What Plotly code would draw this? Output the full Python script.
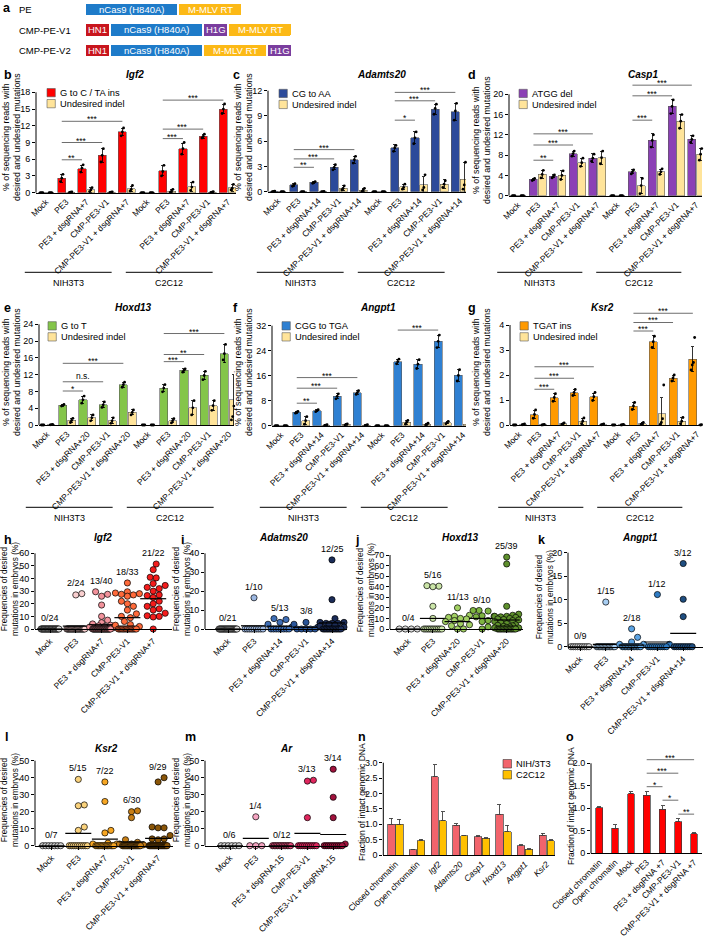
import plotly.graph_objects as go

W, H = 705, 940
FONT = "Liberation Sans, Arial, Helvetica, sans-serif"

# ======================= DATA =======================
cell_lines = ["NIH3T3", "C2C12"]
conds_7 = ["Mock", "PE3", "PE3 + dsgRNA+7", "CMP-PE3-V1", "CMP-PE3-V1 + dsgRNA+7"]
conds_14 = ["Mock", "PE3", "PE3 + dsgRNA+14", "CMP-PE3-V1", "CMP-PE3-V1 + dsgRNA+14"]
conds_20 = ["Mock", "PE3", "PE3 + dsgRNA+20", "CMP-PE3-V1", "CMP-PE3-V1 + dsgRNA+20"]
conds_m15 = ["Mock", "PE3", "PE3 + dsgRNA-15", "CMP-PE3-V1", "CMP-PE3-V1 + dsgRNA-15"]

# ---- a: constructs ----
a_rows = ["PE", "CMP-PE-V1", "CMP-PE-V2"]
a_parts = [["nCas9 (H840A)", "M-MLV RT"],
           ["HN1", "nCas9 (H840A)", "H1G", "M-MLV RT"],
           ["HN1", "nCas9 (H840A)", "M-MLV RT", "H1G"]]
a_part_len = {"HN1": 25, "nCas9 (H840A)": 93, "H1G": 25, "M-MLV RT": 64}
a_part_color = {"HN1": "#C8151D", "nCas9 (H840A)": "#1E7BC9", "H1G": "#7A3D9E", "M-MLV RT": "#FCB916"}

# ---- b: Igf2 ----
b_des = [0, 2.6, 4.3, 6.7, 10.9, 0, 3.9, 7.9, 10.1, 15.0]
b_des_err = [0, 0.7, 0.6, 1.2, 0.7, 0, 0.9, 1.0, 0.4, 0.8]
b_und = [0, 0.1, 0.5, 0.1, 0.7, 0, 0.3, 1.1, 0.1, 0.9]
b_und_err = [0, 0.05, 0.4, 0.05, 0.5, 0, 0.3, 0.8, 0.1, 0.6]
b_des_pts = [[0, 0, 0], [2.0, 2.6, 3.3], [3.7, 4.4, 5.0], [5.5, 6.7, 7.9], [10.2, 10.9, 11.6],
             [0, 0, 0], [3.0, 3.8, 4.9], [6.9, 7.9, 9.0], [9.8, 10.1, 10.5], [14.2, 15.0, 15.9]]
b_und_pts = [[0, 0, 0], [0.05, 0.1, 0.15], [0.2, 0.5, 0.9], [0.05, 0.1, 0.15], [0.3, 0.6, 1.3],
             [0, 0, 0], [0.1, 0.3, 0.6], [0.4, 1.0, 1.9], [0.05, 0.1, 0.2], [0.5, 0.8, 1.5]]
b_sig = [(1, 2, 5.9, "**"), (1, 3, 9.0, "***"), (1, 4, 12.8, "***"),
         (6, 7, 9.7, "***"), (6, 8, 11.4, "***"), (6, 9, 16.6, "***")]

# ---- c: Adamts20 ----
c_des = [0.05, 0.8, 1.1, 2.9, 3.8, 0, 5.2, 6.4, 9.8, 9.5]
c_des_err = [0.03, 0.15, 0.1, 0.3, 0.4, 0, 0.4, 0.7, 0.6, 1.0]
c_und = [0, 0, 0.02, 0.4, 0.2, 0, 0.6, 0.8, 0.9, 1.5]
c_und_err = [0, 0, 0.02, 0.3, 0.2, 0, 0.3, 1.0, 0.5, 2.0]
c_des_pts = [[0.02, 0.05, 0.08], [0.65, 0.8, 0.95], [1.0, 1.1, 1.2], [2.6, 2.9, 3.2], [3.4, 3.8, 4.2],
             [0, 0, 0], [4.8, 5.2, 5.5], [5.7, 6.4, 7.1], [9.2, 9.9, 10.4], [8.5, 9.6, 10.5]]
c_und_pts = [[0, 0, 0], [0, 0, 0.02], [0, 0.02, 0.05], [0.2, 0.4, 0.7], [0.05, 0.2, 0.4],
             [0, 0, 0], [0.3, 0.5, 0.9], [0.2, 0.5, 2.0], [0.5, 0.9, 1.3], [0.3, 0.8, 3.5]]
c_sig = [(1, 2, 2.9, "**"), (1, 3, 3.9, "***"), (1, 4, 5.0, "***"),
         (6, 7, 8.5, "*"), (6, 8, 10.8, "***"), (6, 9, 11.8, "***")]

# ---- d: Casp1 ----
d_des = [0, 3.2, 3.8, 8.3, 7.4, 0, 4.7, 10.9, 17.6, 11.1]
d_des_err = [0, 0.2, 0.3, 0.5, 0.9, 0, 0.4, 1.3, 1.4, 0.8]
d_und = [0, 4.2, 4.0, 6.5, 7.5, 0, 2.0, 4.7, 14.7, 8.2]
d_und_err = [0, 0.8, 0.9, 0.8, 1.3, 0, 1.6, 0.5, 1.4, 1.2]
d_des_pts = [[0, 0, 0], [3.0, 3.2, 3.4], [3.5, 3.8, 4.1], [7.8, 8.3, 8.8], [6.8, 7.4, 8.2],
             [0, 0, 0], [4.3, 4.7, 5.1], [9.6, 10.9, 12.0], [16.2, 17.6, 18.9], [10.5, 11.1, 11.8]]
d_und_pts = [[0, 0, 0], [3.5, 4.2, 5.0], [3.2, 4.0, 4.9], [5.8, 6.5, 7.4], [6.3, 7.5, 8.8],
             [0, 0, 0], [0.4, 2.0, 3.4], [4.2, 4.7, 5.3], [13.3, 14.7, 16.0], [7.0, 8.2, 9.3]]
d_sig = [(1, 2, 7.0, "**"), (1, 3, 10.0, "***"), (1, 4, 12.2, "***"),
         (6, 7, 14.9, "***"), (6, 8, 19.7, "***"), (6, 9, 21.8, "***")]

# ---- e: Hoxd13 ----
e_des = [0, 4.7, 6.0, 4.8, 9.6, 0, 8.8, 13.0, 11.8, 17.0]
e_des_err = [0, 0.2, 0.9, 0.7, 0.6, 0, 0.8, 0.4, 1.0, 2.2]
e_und = [0.1, 1.1, 1.7, 1.0, 3.0, 0, 1.0, 4.1, 4.6, 6.0]
e_und_err = [0.05, 0.5, 0.7, 0.7, 0.6, 0, 0.5, 1.7, 1.2, 6.0]
e_des_pts = [[0, 0, 0], [4.5, 4.7, 4.9], [5.2, 6.0, 6.9], [4.2, 4.8, 5.5], [9.0, 9.6, 10.2],
             [0, 0, 0], [7.9, 8.8, 9.6], [12.6, 13.0, 13.4], [10.8, 11.8, 12.8], [15.5, 17.0, 19.2]]
e_und_pts = [[0.05, 0.1, 0.15], [0.6, 1.1, 1.6], [1.0, 1.7, 2.4], [0.4, 1.0, 1.7], [2.4, 3.0, 3.6],
             [0, 0, 0], [0.5, 1.0, 1.5], [2.4, 4.1, 5.8], [3.5, 4.6, 5.8], [1.2, 2.0, 4.5, 16.3]]
e_sig = [(1, 2, 8.1, "*"), (1, 3, 10.3, "n.s."), (1, 4, 14.7, "***"),
         (6, 7, 15.1, "***"), (6, 8, 16.8, "**"), (6, 9, 21.8, "***")]

# ---- f: Angpt1 ----
f_des = [0, 4.3, 4.8, 9.4, 10.6, 0, 20.5, 19.7, 27.0, 16.1]
f_des_err = [0, 0.3, 0.3, 0.8, 0.6, 0, 0.8, 1.4, 2.0, 1.8]
f_und = [0, 1.6, 0.2, 0.4, 0.2, 0, 1.1, 0.5, 1.0, 0.5]
f_und_err = [0, 1.3, 0.1, 0.2, 0.1, 0, 0.6, 0.3, 0.4, 0.5]
f_des_pts = [[0, 0, 0], [4.0, 4.3, 4.6], [4.5, 4.8, 5.1], [8.6, 9.4, 10.2], [10.0, 10.6, 11.2],
             [0, 0, 0], [19.8, 20.5, 21.3], [18.3, 19.7, 21.1], [25.0, 27.0, 29.0], [14.3, 16.1, 17.9]]
f_und_pts = [[0, 0, 0], [0.5, 1.6, 2.9], [0.1, 0.2, 0.3], [0.2, 0.4, 0.6], [0.1, 0.2, 0.3],
             [0, 0, 0], [0.5, 1.1, 1.7], [0.2, 0.5, 0.8], [0.6, 1.0, 1.4], [0.1, 0.5, 1.0]]
f_sig = [(1, 2, 7.2, "**"), (1, 3, 12.0, "***"), (1, 4, 15.4, "***"), (6, 8, 30.6, "***")]

# ---- g: Ksr2 ----
g_des = [0, 0.42, 1.1, 1.3, 1.13, 0, 0.76, 3.33, 1.88, 2.63]
g_des_err = [0, 0.15, 0.15, 0.12, 0.15, 0, 0.15, 0.25, 0.12, 0.5]
g_und = [0.02, 0.01, 0.05, 0.15, 0.02, 0.01, 0.06, 0.45, 0.15, 0.01]
g_und_err = [0.01, 0.01, 0.03, 0.12, 0.01, 0.01, 0.05, 0.65, 0.15, 0.01]
g_des_pts = [[0, 0, 0], [0.27, 0.42, 0.6], [0.95, 1.1, 1.25], [1.18, 1.3, 1.42], [0.98, 1.13, 1.3],
             [0, 0, 0], [0.62, 0.76, 0.9], [3.1, 3.33, 3.55], [1.76, 1.88, 2.0], [2.2, 2.4, 2.5, 3.5]]
g_und_pts = [[0.01, 0.02, 0.04], [0, 0.01, 0.02], [0.02, 0.05, 0.08], [0.05, 0.15, 0.28], [0.01, 0.02, 0.04],
             [0, 0.01, 0.02], [0.02, 0.06, 0.1], [0.02, 0.1, 0.25, 1.6], [0.05, 0.15, 0.3], [0, 0.01, 0.02]]
g_sig = [(1, 2, 1.43, "***"), (1, 3, 1.87, "***"), (1, 4, 2.33, "***"),
         (6, 7, 3.76, "***"), (6, 8, 4.1, "***"), (6, 9, 4.47, "***")]

# ---- h-m: embryo dot plots (nonzero values + number of zero embryos) ----
h_pos = [[], [28.0, 27.0],
         [29.5, 27.5, 26.0, 19.0, 10.0, 7.0, 5.0, 4.0, 3.0, 2.5, 2.0, 1.5, 1.0],
         [36.5, 29.5, 28.5, 28.0, 27.5, 27.0, 26.0, 22.0, 20.0, 18.0, 15.0, 12.0, 10.0, 9.0, 6.0, 3.5, 3.0, 2.0],
         [51.5, 47.0, 41.0, 40.5, 36.0, 34.5, 33.0, 32.0, 30.0, 27.0, 26.5, 25.0, 22.0, 20.0, 18.0, 16.0,
          15.0, 12.5, 10.5, 10.0, 9.5]]
h_zeros = [24, 22, 27, 15, 1]
h_means = [0, 2.3, 3.4, 9.0, 24.0]
h_counts = ["0/24", "2/24", "13/40", "18/33", "21/22"]

i_pos = [[], [16.5], [5.5, 5.0, 3.5, 2.5, 1.0], [3.5, 2.5, 1.0],
         [36.5, 15.5, 5.5, 3.5, 3.5, 3.0, 3.0, 3.0, 2.5, 2.0, 1.5, 1.0]]
i_zeros = [21, 9, 8, 5, 13]
i_means = [0, 1.7, 1.5, 0.9, 3.2]
i_counts = ["0/21", "1/10", "5/13", "3/8", "12/25"]

j_pos = [[], [41.0, 40.5, 40.0, 21.5, 10.0],
         [20.0, 13.0, 12.0, 11.0, 10.0, 9.5, 8.0, 7.0, 5.0, 4.0, 3.0],
         [17.5, 17.5, 17.0, 12.5, 12.0, 11.5, 8.0, 7.0, 2.0],
         [68.0, 61.5, 21.5, 14.0, 13.0, 12.0, 12.0, 11.5, 11.0, 10.0, 9.5, 9.0, 8.5, 8.0, 7.0, 6.0, 5.0,
          4.0, 3.5, 3.0, 2.5, 2.0, 1.5, 1.0, 1.0]]
j_zeros = [4, 11, 2, 1, 14]
j_means = [0, 10.0, 7.0, 10.0, 8.5]
j_counts = ["0/4", "5/16", "11/13", "9/10", "25/39"]

k_pos = [[], [9.5], [3.8, 2.0, 1.0, 0.5, 0.5], [11.1, 0.5], [17.7, 10.1, 6.4]]
k_zeros = [9, 14, 13, 10, 9]
k_means = [0, 0.5, 0.35, 1.0, 2.85]
k_counts = ["0/9", "1/15", "2/18", "1/12", "3/12"]

l_pos = [[], [39.0, 24.0, 23.5, 11.0, 9.0],
         [37.5, 26.0, 9.0, 7.5, 1.5, 1.0, 1.0],
         [20.5, 20.0, 16.5, 3.5, 2.0, 1.0, 1.0, 0.5],
         [40.0, 37.5, 11.0, 10.5, 10.5, 6.0, 4.0, 4.0, 3.5]]
l_zeros = [7, 10, 15, 22, 20]
l_means = [0, 7.2, 3.9, 2.3, 4.3]
l_counts = ["0/7", "5/15", "7/22", "6/30", "9/29"]

m_pos = [[], [17.0], [], [38.5, 38.0, 16.5], [45.0, 28.5, 16.5, 1.0]]
m_zeros = [6, 3, 12, 10, 10]
m_means = [0, 4.3, 0, 7.3, 6.6]
m_counts = ["0/6", "1/4", "0/12", "3/13", "3/14"]

# ---- n: intact genomic DNA by locus ----
n_labels = ["Closed chromatin", "Open chromatin", "<i>Igf2</i>", "<i>Adamts20</i>", "<i>Casp1</i>",
            "<i>Hoxd13</i>", "<i>Angpt1</i>", "<i>Ksr2</i>"]
n_series = ["NIH/3T3", "C2C12"]
n_nih = [1.0, 0.17, 2.55, 0.97, 0.59, 1.33, 0.30, 0.65]
n_nih_err = [0.2, 0.02, 0.38, 0.05, 0.04, 0.30, 0.04, 0.06]
n_c2 = [1.0, 0.46, 1.12, 0.62, 0.54, 0.75, 0.18, 0.46]
n_c2_err = [0.16, 0.06, 0.28, 0.03, 0.02, 0.21, 0.02, 0.03]

# ---- o: intact genomic DNA by condition ----
o_labels = ["Closed chromatin", "Open chromatin", "Mock", "PE3", "PE3 + dsgRNA +7", "CMP-PE3-V1",
            "CMP-PE3-V1 + dsgRNA +7"]
o_vals = [1.01, 0.56, 1.32, 1.29, 0.98, 0.70, 0.44]
o_err = [0.02, 0.07, 0.05, 0.08, 0.08, 0.07, 0.02]
o_sig = [(3, 6, 2.08, "***"), (3, 5, 1.78, "***"), (3, 4, 1.48, "*"), (4, 5, 1.18, "*"), (5, 6, 0.87, "**")]

# ======================= STYLE / GEOMETRY =======================
YELLOW = "#FFE49A"
BAR_LINE = "#5A5A5A"
SIG_LINE = "#6E6E6E"

GEO = {
    "b": dict(axis_x=36, x_end=236, y0=192.7, ytk=92.3, top=80, g0=46, w=20.2, gl_y=272.3, leg_y=88.5,
              yt=(11, 137), title=(135, 75), letter=(2, 75)),
    "c": dict(axis_x=268, x_end=466, y0=191.7, ytk=90.7, top=80, g0=278, w=20.2, gl_y=272.3, leg_y=89.3,
              yt=(243, 137), title=(381, 75), letter=(231, 75)),
    "d": dict(axis_x=509, x_end=702, y0=195.7, ytk=94.3, top=80, g0=518, w=19.8, gl_y=272.3, leg_y=89.3,
              yt=(481, 140), title=(643, 75), letter=(466, 75)),
    "e": dict(axis_x=39, x_end=234, y0=425, ytk=324.3, top=309, g0=47, w=20.2, gl_y=507.3, leg_y=321.7,
              yt=(11, 372), title=(133, 307), letter=(2, 308)),
    "f": dict(axis_x=272, x_end=466, y0=425.7, ytk=325.7, top=309, g0=281, w=20.2, gl_y=507.3, leg_y=321.7,
              yt=(243, 372), title=(378, 308), letter=(231, 308)),
    "g": dict(axis_x=510, x_end=702, y0=425, ytk=325, top=309, g0=519, w=19.8, gl_y=507.3, leg_y=321.7,
              yt=(481, 372), title=(602, 307), letter=(466, 308)),
    "h": dict(axis_x=35, x_end=172, y0=629, ytk=553.3, top=542, g0=50, w=25.8,
              yt=(9, 589), title=(103, 537), letter=(2, 540)),
    "i": dict(axis_x=205, x_end=347, y0=629, ytk=553.3, top=542, g0=228, w=26,
              yt=(181, 589), title=(283, 537), letter=(179, 540)),
    "j": dict(axis_x=390, x_end=523, y0=629, ytk=555, top=542, g0=408.3, w=24.6,
              yt=(365, 590), title=(460, 537), letter=(353, 540)),
    "k": dict(axis_x=568, x_end=703, y0=646.7, ytk=552.7, top=542, g0=580, w=25.8,
              yt=(544, 597), title=(640, 537), letter=(536, 540)),
    "l": dict(axis_x=35, x_end=173, y0=845.7, ytk=760.7, top=752, g0=51.7, w=26.6,
              yt=(9, 800), title=(106, 748), letter=(3, 737)),
    "m": dict(axis_x=205, x_end=347, y0=845.7, ytk=760.7, top=742, g0=230, w=25.8,
              yt=(181, 800), title=(286, 748), letter=(183, 737)),
    "n": dict(axis_x=383.3, x_end=555, y0=855, ytk=762.7, top=752, g0=395.5, w=21.6,
              yt=(362, 802), letter=(356, 737)),
    "o": dict(axis_x=591, x_end=702, y0=853.3, ytk=763.3, top=752, g0=599.3, w=15.8,
              yt=(571, 806), letter=(564, 737)),
}


def X(p):
    return p / W


def Y(p):
    return 1 - p / H


traces, shapes, anns = [], [], []
axes = {}
nax = [0]


def add_axes(xdom, ydom, xr, yr, xopts, yopts):
    nax[0] += 1
    k = nax[0]
    s = "" if k == 1 else str(k)
    axes["xaxis" + s] = dict(domain=[X(xdom[0]), X(xdom[1])], range=xr, anchor="y" + s, automargin=False, **xopts)
    axes["yaxis" + s] = dict(domain=[Y(ydom[0]), Y(ydom[1])], range=yr, anchor="x" + s, automargin=False, **yopts)
    return "x" + s, "y" + s


XBASE = dict(showgrid=False, zeroline=False, showline=True, linecolor="black", linewidth=1,
             tickangle=-45, tickfont=dict(size=8.5), fixedrange=True)
YBASE = dict(showgrid=False, zeroline=False, showline=False, ticks="outside", ticklen=3, tickwidth=1,
             tickcolor="black", tickfont=dict(size=9), fixedrange=True)


def text(x, y, s, size=9, **kw):
    d = dict(xref="paper", yref="paper", x=X(x), y=Y(y), text=s, showarrow=False, xanchor="center",
             yanchor="middle", font=dict(size=size, color="black"))
    d.update(kw)
    anns.append(d)


def yaxis_line(g):
    shapes.append(dict(type="line", xref="paper", yref="paper", x0=X(g["axis_x"]), x1=X(g["axis_x"]),
                       y0=Y(g["y0"]), y1=Y(g["ytk"]), line=dict(color="black", width=1)))


def common_text(g, title, letter, ytitle, ysize=8.8):
    if title:
        text(g["title"][0], g["title"][1], "<b><i>%s</i></b>" % title, size=10)
    text(g["letter"][0], g["letter"][1], "<b>%s</b>" % letter, size=12.5, xanchor="left")
    text(g["yt"][0], g["yt"][1], ytitle, size=ysize, textangle=-90)


# ---------------- panel a ----------------
ga_x, ga_y = add_axes((85, 305), (62, 0), [0, 220], [2.55, -0.45],
                      dict(visible=False, fixedrange=True), dict(visible=False, fixedrange=True))
for col in range(4):
    xs, cols = [], []
    for r, parts in enumerate(a_parts):
        if col < len(parts):
            xs.append(a_part_len[parts[col]]); cols.append(a_part_color[parts[col]])
        else:
            xs.append(None); cols.append("white")
    traces.append(go.Bar(x=xs, y=[0, 1, 2], orientation="h", width=0.62,
                         marker=dict(color=cols, line=dict(color="white", width=1.4), cornerradius=2),
                         xaxis=ga_x, yaxis=ga_y))
for r, parts in enumerate(a_parts):
    start = 0
    for p in parts:
        anns.append(dict(xref=ga_x, yref=ga_y, x=start + a_part_len[p] / 2.0, y=r, text=p, showarrow=False,
                         xanchor="center", yanchor="middle", font=dict(size=9.5, color="white")))
        start += a_part_len[p]
for r, name in enumerate(a_rows):
    text(17, 9.5 + r * 20.6, name, size=9.5, xanchor="left")
text(1, 8, "<b>a</b>", size=12.5, xanchor="left")


# ---------------- bar panels b-g ----------------
def bar_panel(key, labels, des, des_err, und, und_err, des_pts, und_pts, color, ticks, title, leg, sig):
    g = GEO[key]
    w = g["w"]
    r0 = -(g["g0"] - g["axis_x"]) / w
    r1 = r0 + (g["x_end"] - g["axis_x"]) / w
    ppu = (g["y0"] - g["ytk"]) / ticks[-1]
    yr1 = (g["y0"] - g["top"]) / ppu
    xa, ya = add_axes((g["axis_x"], g["x_end"]), (g["y0"], g["top"]), [r0, r1], [0, yr1],
                      dict(XBASE, tickvals=list(range(len(labels))), ticktext=labels, ticks=""),
                      dict(YBASE, tickvals=ticks))
    n = len(des)
    for vals, err, off, col in ((des, des_err, -0.22, color), (und, und_err, 0.22, YELLOW)):
        traces.append(go.Bar(x=[i + off for i in range(n)], y=vals, width=0.4,
                             marker=dict(color=col, line=dict(color=BAR_LINE, width=0.6)),
                             error_y=dict(type="data", array=err, color="black", thickness=0.8, width=1.5),
                             xaxis=xa, yaxis=ya))
    xs, ys = [], []
    for pts_list, off in ((des_pts, -0.22), (und_pts, 0.22)):
        for i, pts in enumerate(pts_list):
            m = len(pts)
            for k, v in enumerate(pts):
                xs.append(i + off + (k - (m - 1) / 2) * 0.06)
                ys.append(v)
    traces.append(go.Scatter(x=xs, y=ys, mode="markers", marker=dict(color="black", size=2.8),
                             cliponaxis=False, xaxis=xa, yaxis=ya))
    yaxis_line(g)
    for a, b, yv, s in sig:
        shapes.append(dict(type="line", xref=xa, yref=ya, x0=a - 0.22, x1=b - 0.22, y0=yv, y1=yv,
                           line=dict(color=SIG_LINE, width=1)))
        anns.append(dict(xref=xa, yref=ya, x=(a + b) / 2 - 0.22, y=yv, text=s, showarrow=False,
                         xanchor="center", yanchor="bottom", yshift=-5 if "*" in s else -1,
                         font=dict(size=8.5, color="black")))
    for gi, name in enumerate(cell_lines):
        s = g["g0"] + 5 * gi * w - 1.05 * w
        e = g["g0"] + (5 * gi + 4) * w - 0.75 * w
        shapes.append(dict(type="line", xref="paper", yref="paper", x0=X(s), x1=X(e), y0=Y(g["gl_y"]),
                           y1=Y(g["gl_y"]), line=dict(color="black", width=1)))
        text((s + e) / 2, g["gl_y"] + 11, name, size=9)
    # legend
    for li, (lab, col) in enumerate(((leg, color), ("Undesired indel", YELLOW))):
        yt = g["leg_y"] + 11 * li
        x0 = g["g0"] + 1
        shapes.append(dict(type="rect", xref="paper", yref="paper", x0=X(x0), x1=X(x0 + 8.3),
                           y0=Y(yt + 8.3), y1=Y(yt), fillcolor=col, line=dict(color=BAR_LINE, width=0.6)))
        text(x0 + 10.5, yt + 4.3, lab, size=9.3, xanchor="left")
    common_text(g, title, key, "% of sequencing reads with<br>desired and undesired mutations")


bar_panel("b", conds_7 * 2, b_des, b_des_err, b_und, b_und_err, b_des_pts, b_und_pts, "#FF0000",
          [0, 3, 6, 9, 12, 15, 18], "Igf2", "G to C / TA ins", b_sig)
bar_panel("c", conds_14 * 2, c_des, c_des_err, c_und, c_und_err, c_des_pts, c_und_pts, "#2C4A9A",
          [0, 3, 6, 9, 12], "Adamts20", "CG to AA", c_sig)
bar_panel("d", conds_7 * 2, d_des, d_des_err, d_und, d_und_err, d_des_pts, d_und_pts, "#8B40B5",
          [0, 4, 8, 12, 16, 20], "Casp1", "ATGG del", d_sig)
bar_panel("e", conds_20 * 2, e_des, e_des_err, e_und, e_und_err, e_des_pts, e_und_pts, "#84C54A",
          [0, 4, 8, 12, 16, 20, 24], "Hoxd13", "G to T", e_sig)
bar_panel("f", conds_14 * 2, f_des, f_des_err, f_und, f_und_err, f_des_pts, f_und_pts, "#2F80D2",
          [0, 8, 16, 24, 32], "Angpt1", "CGG to TGA", f_sig)
bar_panel("g", conds_7 * 2, g_des, g_des_err, g_und, g_und_err, g_des_pts, g_und_pts, "#FF9A00",
          [0, 1, 2, 3, 4], "Ksr2", "TGAT ins", g_sig)


# ---------------- dot panels h-m ----------------
def swarm(vals, ppu, w, d=6.0, row_half=9.0, max_half=13.0):
    n = len(vals)
    offs = [None] * n
    placed = []
    counts = {}
    for v in vals:
        counts[v] = counts.get(v, 0) + 1
    for v, c in counts.items():
        if c >= 3:
            idx = [i for i in range(n) if vals[i] == v]
            half = min((c - 1) * d / 2.0, row_half)
            for k, i in enumerate(idx):
                xo = -half + 2 * half * k / (c - 1)
                offs[i] = xo
                placed.append((xo, v * ppu))
    rest = sorted([i for i in range(n) if offs[i] is None], key=lambda i: vals[i])
    step = d / 2.0
    cands = [0.0]
    k = 1
    while k * step <= max_half + 1e-9:
        cands += [k * step, -k * step]
        k += 1
    for i in rest:
        y = vals[i] * ppu
        chosen, best_c, best_d = None, 0.0, -1.0
        for c in cands:
            md = min([((c - a) ** 2 + (y - b) ** 2) ** 0.5 for a, b in placed], default=1e9)
            if md >= d * 0.95:
                chosen = c
                break
            if md > best_d:
                best_d, best_c = md, c
        if chosen is None:
            chosen = best_c
        offs[i] = chosen
        placed.append((chosen, y))
    return [o / w for o in offs]


def dot_panel(key, labels, pos, zeros, means, counts, colors, ticks, title):
    g = GEO[key]
    w = g["w"]
    r0 = -(g["g0"] - g["axis_x"]) / w
    r1 = r0 + (g["x_end"] - g["axis_x"]) / w
    ppu = (g["y0"] - g["ytk"]) / ticks[-1]
    yr1 = (g["y0"] - g["top"]) / ppu
    xa, ya = add_axes((g["axis_x"], g["x_end"]), (g["y0"], g["top"]), [r0, r1], [0, yr1],
                      dict(XBASE, tickvals=list(range(5)), ticktext=labels, ticks="outside", ticklen=3,
                           tickcolor="black"),
                      dict(YBASE, tickvals=ticks))
    for i in range(5):
        vals = pos[i] + [0.0] * zeros[i]
        offs = swarm(vals, ppu, w)
        traces.append(go.Scatter(x=[i + o for o in offs], y=vals, mode="markers", cliponaxis=False,
                                 marker=dict(size=6.2, color=colors[i], line=dict(color="black", width=0.7)),
                                 xaxis=xa, yaxis=ya))
        hw = 13.0 / w
        traces.append(go.Scatter(x=[i - hw, i + hw], y=[means[i], means[i]], mode="lines", cliponaxis=False,
                                 line=dict(color="black", width=1.2), xaxis=xa, yaxis=ya))
        anns.append(dict(xref=xa, yref=ya, x=i, y=max(vals) + 11.0 / ppu, text=counts[i], showarrow=False,
                         xanchor="center", yanchor="middle", font=dict(size=9, color="black")))
    yaxis_line(g)
    common_text(g, title, key, "Frequencies of desired<br>mutations in embryos (%)", ysize=8.3)


GREY = "#DCDCDC"
dot_panel("h", conds_7, h_pos, h_zeros, h_means, h_counts,
          [GREY, "#F9CFCF", "#F2929B", "#FF6A3A", "#F41C1C"], [0, 10, 20, 30, 40, 50, 60], "Igf2")
dot_panel("i", conds_14, i_pos, i_zeros, i_means, i_counts,
          [GREY, "#9DB8E2", "#3F6EB5", "#2A5599", "#1B2C58"], [0, 10, 20, 30, 40], "Adatms20")
dot_panel("j", conds_20, j_pos, j_zeros, j_means, j_counts,
          [GREY, "#CBE5A8", "#A2D063", "#7EB441", "#5E902C"], [0, 10, 20, 30, 40, 50, 60, 70], "Hoxd13")
dot_panel("k", conds_14, k_pos, k_zeros, k_means, k_counts,
          [GREY, "#A8CEF2", "#5BA3E3", "#2F7CC4", "#1F4E80"], [0, 5, 10, 15, 20], "Angpt1")
dot_panel("l", conds_7, l_pos, l_zeros, l_means, l_counts,
          ["#CFCFCF", "#FAD27C", "#F6A623", "#C77E16", "#8A5508"], [0, 10, 20, 30, 40, 50], "Ksr2")
dot_panel("m", conds_m15, m_pos, m_zeros, m_means, m_counts,
          ["#D2D2D2", "#F5A5C2", "#E84C7C", "#E0265E", "#A0123C"], [0, 10, 20, 30, 40, 50], "Ar")

# ---------------- panel n ----------------
g = GEO["n"]
w = g["w"]
r0 = -(g["g0"] - g["axis_x"]) / w
r1 = r0 + (g["x_end"] - g["axis_x"]) / w
n_ticks = [0, 0.5, 1.0, 1.5, 2.0, 2.5, 3.0]
ppu = (g["y0"] - g["ytk"]) / n_ticks[-1]
xa, ya = add_axes((g["axis_x"], g["x_end"]), (g["y0"], g["top"]), [r0, r1], [0, (g["y0"] - g["top"]) / ppu],
                  dict(XBASE, tickvals=list(range(len(n_labels))), ticktext=n_labels, ticks=""),
                  dict(YBASE, tickvals=n_ticks, ticktext=["0", "0.5", "1.0", "1.5", "2.0", "2.5", "3.0"]))
N_COL = ["#F2646C", "#FFC000"]
for vals, err, off, col in ((n_nih, n_nih_err, -0.185, N_COL[0]), (n_c2, n_c2_err, 0.185, N_COL[1])):
    traces.append(go.Bar(x=[i + off for i in range(len(vals))], y=vals, width=0.34,
                         marker=dict(color=col, line=dict(color="#3A3A3A", width=0.7)),
                         error_y=dict(type="data", symmetric=False, array=err, arrayminus=[0] * len(err),
                                      color="#404040", thickness=0.9, width=2),
                         xaxis=xa, yaxis=ya))
yaxis_line(g)
for li, (lab, col) in enumerate(zip(n_series, N_COL)):
    yt = 759.5 + 11 * li
    shapes.append(dict(type="rect", xref="paper", yref="paper", x0=X(503), x1=X(511.5), y0=Y(yt + 8.5),
                       y1=Y(yt), fillcolor=col, line=dict(color="#3A3A3A", width=0.6)))
    text(514, yt + 4.3, lab, size=9.3, xanchor="left")
common_text(g, None, "n", "Fraction of intact genomic DNA", ysize=8.5)

# ---------------- panel o ----------------
g = GEO["o"]
w = g["w"]
r0 = -(g["g0"] - g["axis_x"]) / w
r1 = r0 + (g["x_end"] - g["axis_x"]) / w
o_ticks = [0, 0.5, 1.0, 1.5, 2.0]
ppu = (g["y0"] - g["ytk"]) / o_ticks[-1]
xa, ya = add_axes((g["axis_x"], g["x_end"]), (g["y0"], g["top"]), [r0, r1], [0, (g["y0"] - g["top"]) / ppu],
                  dict(XBASE, tickvals=list(range(len(o_labels))), ticktext=o_labels, ticks=""),
                  dict(YBASE, tickvals=o_ticks, ticktext=["0", "0.5", "1.0", "1.5", "2.0"]))
traces.append(go.Bar(x=list(range(len(o_vals))), y=o_vals, width=0.42,
                     marker=dict(color="#FF0000", line=dict(color="#3A3A3A", width=0.7)),
                     error_y=dict(type="data", symmetric=False, array=o_err, arrayminus=[0] * len(o_err),
                                  color="#404040", thickness=0.9, width=2),
                     xaxis=xa, yaxis=ya))
yaxis_line(g)
for a, b, yv, s in o_sig:
    shapes.append(dict(type="line", xref=xa, yref=ya, x0=a, x1=b, y0=yv, y1=yv,
                       line=dict(color=SIG_LINE, width=1)))
    anns.append(dict(xref=xa, yref=ya, x=(a + b) / 2, y=yv, text=s, showarrow=False, xanchor="center",
                     yanchor="bottom", yshift=-5, font=dict(size=8.5, color="black")))
common_text(g, None, "o", "Fraction of intact genomic DNA", ysize=8.5)

# ======================= FIGURE =======================
fig = go.Figure(data=traces)
fig.update_layout(template="none", width=W, height=H, margin=dict(l=0, r=0, t=0, b=0, pad=0, autoexpand=False),
                  paper_bgcolor="white", plot_bgcolor="rgba(0,0,0,0)", showlegend=False, barmode="stack",
                  hovermode=False, font=dict(family=FONT, size=9, color="black"),
                  shapes=shapes, annotations=anns, **axes)
fig.write_html("out.html", config={"displayModeBar": False},
               post_script="document.body.style.margin='0';document.body.style.overflow='hidden';")
